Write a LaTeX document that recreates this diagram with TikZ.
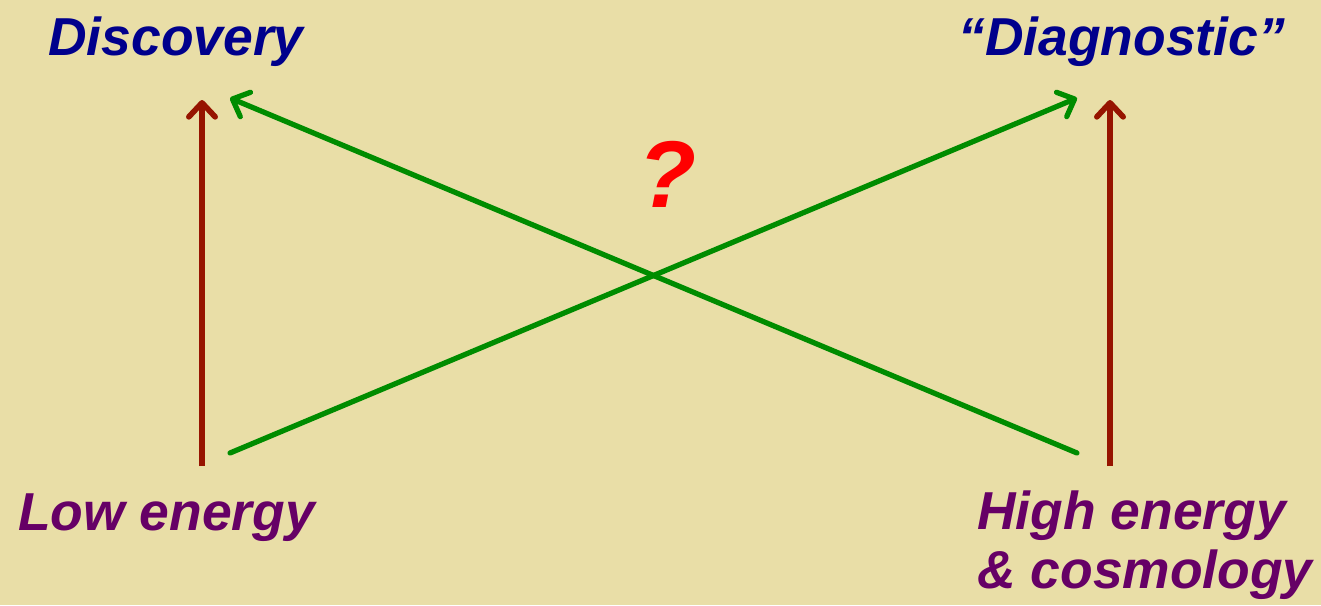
\documentclass[tikz,border=0pt]{standalone}
\usepackage{fontspec}
\setmainfont{Liberation Sans}
\usetikzlibrary{arrows.meta}
\definecolor{paper}{RGB}{233,222,167}
\definecolor{titleblue}{RGB}{0,0,140}
\definecolor{sourcepurple}{RGB}{102,0,102}
\definecolor{linkred}{RGB}{150,20,0}
\definecolor{linkgreen}{RGB}{0,140,0}
\tikzset{
  heading/.style={font=\fontsize{30.4}{34}\selectfont\bfseries\itshape, inner sep=0pt},
  direct/.style={draw=linkred, line width=3.2pt, -{Straight Barb[round,length=8pt,width=15pt]}},
  cross/.style={draw=linkgreen, line width=3pt, line cap=round, -{Straight Barb[round,length=8pt,width=15pt]}}
}
\begin{document}
\begin{tikzpicture}[x=0.02cm,y=-0.02cm]
\fill[paper] (0,0) rectangle (1321,605);
\node[heading, text=titleblue, anchor=base west] (disc) at (48,55) {Discovery};
\node[heading, text=titleblue, anchor=base west] (diag) at (958,55) {``Diagnostic''};
\node[heading, text=sourcepurple, anchor=base west] (low) at (18,530) {Low energy};
\node[heading, text=sourcepurple, anchor=north west, align=left] (high) at (977,490) {High energy\\\& cosmology};
\node[font=\fontsize{54}{60}\selectfont\bfseries\itshape, text=red, inner sep=0pt] (q) at (667,174) {?};
\coordinate (lowup) at (202,466);
\coordinate (discup) at (202,100);
\coordinate (highup) at (1110,466);
\coordinate (diagup) at (1110,100);
\coordinate (lowx) at (230,453);
\coordinate (discx) at (230,98);
\coordinate (highx) at (1077,453);
\coordinate (diagx) at (1077,98);
\draw[direct] (lowup) -- (discup);
\draw[direct] (highup) -- (diagup);
\draw[cross] (highx) -- (discx);
\draw[cross] (lowx) -- (diagx);
\end{tikzpicture}
\end{document}
